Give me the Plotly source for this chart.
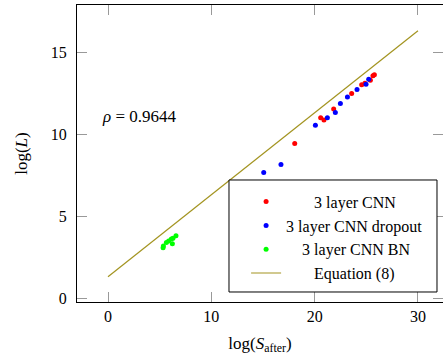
import plotly.graph_objects as go

# Data
cnn_x = [18.07, 20.58, 20.90, 21.84, 23.58, 24.55, 24.86, 25.39, 25.64, 25.78]
cnn_y = [9.42, 11.00, 10.86, 11.53, 12.48, 13.00, 13.10, 13.28, 13.55, 13.62]

drop_x = [15.07, 16.74, 20.07, 21.23, 22.00, 22.49, 23.17, 24.10, 24.97, 25.23]
drop_y = [7.66, 8.15, 10.54, 11.00, 11.31, 11.87, 12.26, 12.71, 13.03, 13.35]

bn_x = [5.33, 5.36, 5.65, 5.87, 6.13, 6.29, 6.23, 6.58]
bn_y = [3.07, 3.17, 3.39, 3.48, 3.60, 3.64, 3.31, 3.80]

eq_x = [0, 30]
eq_y = [1.3, 16.3]

x_ticks = [0, 10, 20, 30]
y_ticks = [0, 5, 10, 15]

series_names = ["3 layer CNN", "3 layer CNN dropout", "3 layer CNN BN", "Equation (8)"]

FONT = "Liberation Serif"
NB = "\u00a0"
# padding so the legend labels appear centred like in the reference
pads = [7, 0, 4, 7]
labels = [NB * p + n for p, n in zip(pads, series_names)]

fig = go.Figure()
fig.add_trace(go.Scatter(x=cnn_x, y=cnn_y, mode="markers", name=labels[0],
                         marker=dict(color="#ff0000", size=5)))
fig.add_trace(go.Scatter(x=drop_x, y=drop_y, mode="markers", name=labels[1],
                         marker=dict(color="#0000ff", size=5)))
fig.add_trace(go.Scatter(x=bn_x, y=bn_y, mode="markers", name=labels[2],
                         marker=dict(color="#00ff00", size=5)))
fig.add_trace(go.Scatter(x=eq_x, y=eq_y, mode="lines", name=labels[3],
                         line=dict(color="#a39420", width=1.2)))

fig.add_annotation(x=3, y=11.05, xref="x", yref="y", text="<i>ρ</i> = 0.9644",
                   showarrow=False, font=dict(family=FONT, size=17, color="black"))

# legend frame
fig.add_shape(type="rect", xref="paper", yref="paper",
              x0=0.4153, x1=0.9836, y0=0.0337, y1=0.4108,
              line=dict(color="black", width=1), fillcolor="white", layer="above")

fig.update_layout(
    width=443, height=360,
    margin=dict(l=77, r=0, t=5, b=58),
    paper_bgcolor="white", plot_bgcolor="white",
    font=dict(family=FONT, size=16, color="black"),
    legend=dict(x=0.462, y=0.395, xanchor="left", yanchor="top",
                bgcolor="rgba(0,0,0,0)", borderwidth=0,
                font=dict(family=FONT, size=16, color="black")),
    xaxis=dict(range=[-3, 32.42], tickvals=x_ticks, ticks="inside", ticklen=10,
               tickcolor="#999999", tickwidth=1, showgrid=False, zeroline=False,
               showline=True, linecolor="black", linewidth=1, mirror="ticks",
               tickfont=dict(family=FONT, size=16),
               title=dict(text="log(<i>S</i><sub>after</sub>)", font=dict(family=FONT, size=17),
                          standoff=12)),
    yaxis=dict(range=[-0.24, 17.87], tickvals=y_ticks, ticks="inside", ticklen=10,
               tickcolor="#999999", tickwidth=1, showgrid=False, zeroline=False,
               showline=True, linecolor="black", linewidth=1, mirror="ticks",
               ticklabelstandoff=6,
               tickfont=dict(family=FONT, size=16),
               title=dict(text="log(<i>L</i>)", font=dict(family=FONT, size=17),
                          standoff=18)),
)

fig.write_html("out.html")
